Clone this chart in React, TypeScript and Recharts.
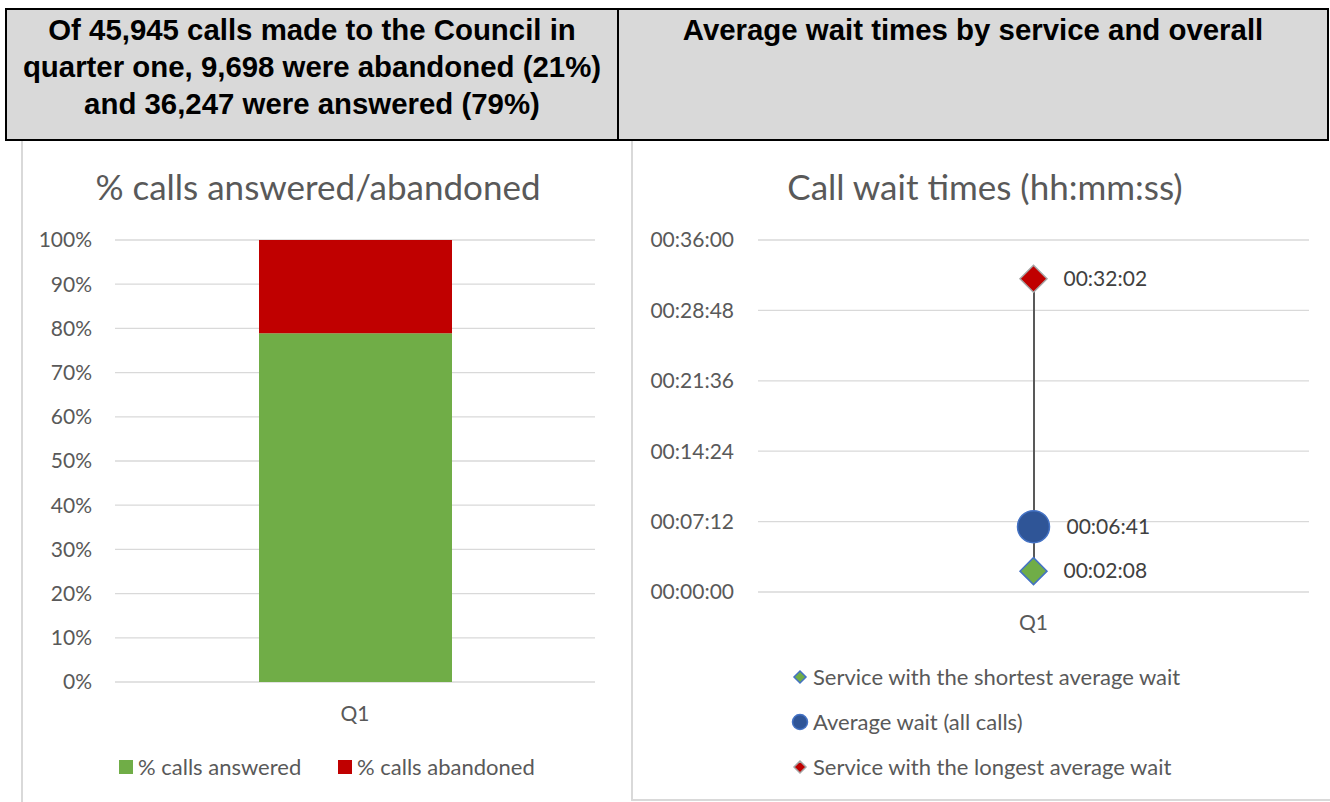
import React from 'react'
import {
  BarChart, Bar, XAxis, YAxis, CartesianGrid,
  ComposedChart, Scatter, LabelList,
} from 'recharts'

// left chart: share of calls in the quarter
const QUARTERS = ['Q1']
const ANSWERED_PCT = [78.9]
const ABANDONED_PCT = [21.1]
const PCT_TICKS = [0, 10, 20, 30, 40, 50, 60, 70, 80, 90, 100]

// right chart: wait times (hh:mm:ss)
const SHORTEST_WAIT = ['00:02:08']
const AVERAGE_WAIT = ['00:06:41']
const LONGEST_WAIT = ['00:32:02']
const WAIT_TICKS = ['00:00:00', '00:07:12', '00:14:24', '00:21:36', '00:28:48', '00:36:00']

const toSec = (s: string) => {
  const [h, m, sec] = s.split(':').map(Number)
  return h * 3600 + m * 60 + sec
}
const pad = (n: number) => String(n).padStart(2, '0')
const toHms = (v: number) => `${pad(Math.floor(v / 3600))}:${pad(Math.floor((v % 3600) / 60))}:${pad(Math.round(v % 60))}`

const pctData = QUARTERS.map((q, i) => ({ q, answered: ANSWERED_PCT[i], abandoned: ABANDONED_PCT[i] }))
const waitData = QUARTERS.map((q, i) => ({
  q,
  low: toSec(SHORTEST_WAIT[i]),
  avg: toSec(AVERAGE_WAIT[i]),
  high: toSec(LONGEST_WAIT[i]),
}))
const waitTicks = WAIT_TICKS.map(toSec)

const FONT = 'Lato, "Open Sans", sans-serif'
const TEXT = '#595959'
const GRID = '#d9d9d9'
const GREEN = '#70ad47'
const RED = '#c00000'
const BLUE = '#2f5597'
const BLUE_EDGE = '#4472c4'

const tickStyle = { fill: TEXT, fontSize: 21, fontFamily: FONT }

function Diamond({ cx, cy, r, fill, stroke }: { cx: number; cy: number; r: number; fill: string; stroke: string }) {
  return (
    <polygon
      points={`${cx},${cy - r} ${cx + r},${cy} ${cx},${cy + r} ${cx - r},${cy}`}
      fill={fill}
      stroke={stroke}
      strokeWidth={1.5}
    />
  )
}

const waitLabel = (dx: number) => (p: any) => {
  const cx = p.x + (p.width || 0) / 2
  const cy = p.y + (p.height || 0) / 2
  return (
    <text x={cx + dx} y={cy} dy="0.35em" fill="#404040" fontSize={21} fontFamily={FONT}>
      {toHms(Number(p.value))}
    </text>
  )
}

const headerBox: React.CSSProperties = {
  position: 'absolute', top: 8, height: 133, boxSizing: 'border-box',
  border: '2px solid #000', background: '#d9d9d9',
  fontFamily: '"Liberation Sans", Arial, sans-serif', fontWeight: 700, fontSize: 29.4,
  lineHeight: '37px', textAlign: 'center', color: '#000', whiteSpace: 'nowrap', paddingTop: 1,
}

const chartTitle: React.CSSProperties = {
  position: 'absolute', top: 164, height: 44, lineHeight: '44px',
  textAlign: 'center', fontFamily: FONT, fontSize: 35, color: TEXT,
}

const legendText: React.CSSProperties = {
  position: 'absolute', fontFamily: FONT, fontSize: 22, color: TEXT,
  lineHeight: '26px', whiteSpace: 'nowrap',
}

export default function App() {
  return (
    <div style={{ position: 'absolute', left: 0, top: 0, width: 1330, height: 802, background: '#fff', overflow: 'hidden' }}>
      {/* headers */}
      <div style={{ ...headerBox, left: 5, width: 614 }}>
        Of 45,945 calls made to the Council in<br />
        quarter one, 9,698 were abandoned (21%)<br />
        and 36,247 were answered (79%)
      </div>
      <div style={{ ...headerBox, left: 617, width: 712 }}>
        Average wait times by service and overall
      </div>

      {/* panel frames */}
      <div style={{ position: 'absolute', left: 21, top: 141, width: 594, height: 661, borderLeft: `2px solid ${GRID}`, boxSizing: 'border-box' }} />
      <div style={{ position: 'absolute', left: 631, top: 141, width: 699, height: 660, borderLeft: `2px solid ${GRID}`, borderBottom: `2px solid ${GRID}`, boxSizing: 'border-box' }} />

      {/* left chart */}
      <div style={{ ...chartTitle, left: 21, width: 594 }}>% calls answered/abandoned</div>
      <div style={{ position: 'absolute', left: 21, top: 141 }}>
        <BarChart width={594} height={660} data={pctData} margin={{ top: 99, right: 20, bottom: 89, left: 14 }}>
          <CartesianGrid vertical={false} stroke={GRID} strokeWidth={1.3} />
          <XAxis dataKey="q" height={30} axisLine={false} tickLine={false} tickMargin={18} tick={tickStyle} />
          <YAxis
            width={80}
            domain={[0, 100]}
            ticks={PCT_TICKS}
            tickFormatter={(v) => `${v}%`}
            axisLine={false}
            tickLine={false}
            tickMargin={17}
            tick={tickStyle}
          />
          <Bar dataKey="answered" stackId="a" fill={GREEN} barSize={193} isAnimationActive={false} />
          <Bar dataKey="abandoned" stackId="a" fill={RED} barSize={193} isAnimationActive={false} />
        </BarChart>
      </div>
      <div style={{ position: 'absolute', left: 119, top: 760, width: 14, height: 14, background: GREEN }} />
      <div style={{ ...legendText, left: 138, top: 754 }}>% calls answered</div>
      <div style={{ position: 'absolute', left: 338, top: 760, width: 14, height: 14, background: RED }} />
      <div style={{ ...legendText, left: 357, top: 754 }}>% calls abandoned</div>

      {/* right chart */}
      <div style={{ ...chartTitle, left: 637, width: 696 }}>Call wait times (hh:mm:ss)</div>
      <div style={{ position: 'absolute', left: 632, top: 141 }}>
        <ComposedChart width={696} height={660} data={waitData} margin={{ top: 99, right: 19, bottom: 179, left: 26 }}>
          <CartesianGrid vertical={false} stroke={GRID} strokeWidth={1.3} />
          <XAxis dataKey="q" height={30} axisLine={false} tickLine={false} tickMargin={17} tick={tickStyle} />
          <YAxis
            width={100}
            domain={[0, 2160]}
            ticks={waitTicks}
            tickFormatter={toHms}
            axisLine={false}
            tickLine={false}
            tickMargin={18}
            tick={tickStyle}
          />
          <Bar dataKey={(d: any) => [d.low, d.high]} fill="#595959" barSize={2} isAnimationActive={false} />
          <Scatter dataKey="low" isAnimationActive={false}
            shape={(p: any) => <Diamond cx={p.cx} cy={p.cy} r={13.5} fill={GREEN} stroke={BLUE_EDGE} />}>
            <LabelList dataKey="low" content={waitLabel(30)} />
          </Scatter>
          <Scatter dataKey="avg" isAnimationActive={false}
            shape={(p: any) => <circle cx={p.cx} cy={p.cy} r={16} fill={BLUE} stroke={BLUE_EDGE} strokeWidth={1.5} />}>
            <LabelList dataKey="avg" content={waitLabel(33)} />
          </Scatter>
          <Scatter dataKey="high" isAnimationActive={false}
            shape={(p: any) => <Diamond cx={p.cx} cy={p.cy} r={13.5} fill={RED} stroke="#a5a5a5" />}>
            <LabelList dataKey="high" content={waitLabel(30)} />
          </Scatter>
        </ComposedChart>
      </div>

      {/* right legend */}
      <svg style={{ position: 'absolute', left: 790, top: 665 }} width={20} height={115}>
        <Diamond cx={10} cy={12} r={6} fill={GREEN} stroke={BLUE_EDGE} />
        <circle cx={10} cy={57} r={7.5} fill={BLUE} stroke={BLUE_EDGE} strokeWidth={1.5} />
        <Diamond cx={10} cy={102} r={6} fill={RED} stroke="#a5a5a5" />
      </svg>
      <div style={{ ...legendText, left: 813, top: 664 }}>Service with the shortest average wait</div>
      <div style={{ ...legendText, left: 813, top: 709 }}>Average wait (all calls)</div>
      <div style={{ ...legendText, left: 813, top: 754 }}>Service with the longest average wait</div>
    </div>
  )
}
